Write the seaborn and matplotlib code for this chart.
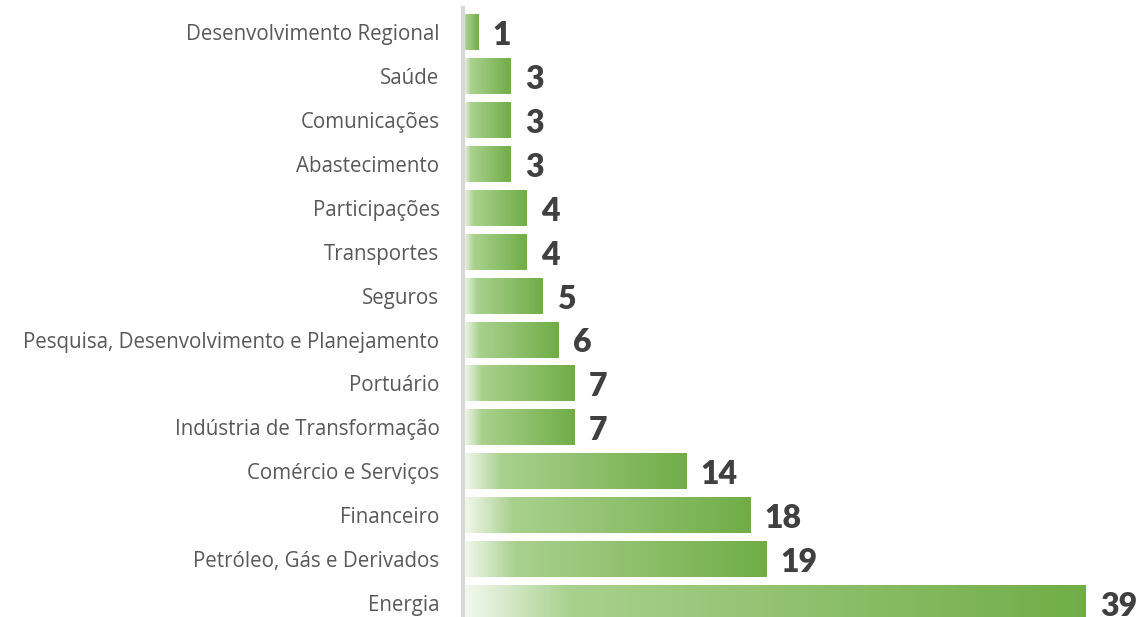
import numpy as np
import pandas as pd
import matplotlib
matplotlib.use("Agg")
import matplotlib.pyplot as plt
from matplotlib.colors import LinearSegmentedColormap
import seaborn as sns

# setores e quantidade
setores = ["Desenvolvimento Regional", "Saúde", "Comunicações", "Abastecimento",
           "Participações", "Transportes", "Seguros",
           "Pesquisa, Desenvolvimento e Planejamento", "Portuário",
           "Indústria de Transformação", "Comércio e Serviços", "Financeiro",
           "Petróleo, Gás e Derivados", "Energia"]
quantidade = [1, 3, 3, 3, 4, 4, 5, 6, 7, 7, 14, 18, 19, 39]

df = pd.DataFrame({"setor": setores, "qtd": quantidade})

sns.set_style("white")
plt.rcParams['font.family'] = ['Open Sans', 'DejaVu Sans']

fig = plt.figure(figsize=(11.41, 6.17), dpi=100)
ax = fig.add_axes([463 / 1141, 0, 1 - 463 / 1141, 1 - 8 / 617])

sns.barplot(data=df, x="qtd", y="setor", order=setores, orient="h",
            width=0.82, color="#70ad47", ax=ax)

# gradiente branco -> verde claro -> verde em cada barra
grad = LinearSegmentedColormap.from_list(
    "verde", [(0, "#f4f9f0"), (0.17, "#a9d18e"), (1, "#70ad47")])
g = np.linspace(0, 1, 256).reshape(1, -1)
for p in ax.patches:
    x0, y0 = p.get_x(), p.get_y()
    w, h = p.get_width(), p.get_height()
    im = ax.imshow(g, cmap=grad, aspect="auto", extent=[x0, x0 + w, y0 + h, y0],
                   interpolation="bilinear", zorder=2)
    im.set_clip_path(p)
    p.set_facecolor("none")
    p.set_edgecolor("none")

for i, v in enumerate(quantidade):
    ax.annotate(str(v), xy=(v, i), xytext=(10, -2.5), textcoords="offset points",
                ha="left", va="center", fontsize=23, fontweight="heavy",
                color="#404040", family=["Lato", "DejaVu Sans"])

ax.set_xlim(0, 42.45)
ax.set_ylim(13.32, -0.55)
ax.set_xlabel("")
ax.set_ylabel("")
ax.set_xticks([])
ax.tick_params(axis="y", length=0, pad=17, labelsize=14.8, labelcolor="#595959")
for s in ["top", "right", "bottom"]:
    ax.spines[s].set_visible(False)
ax.spines["left"].set_color("#d9d9d9")
ax.spines["left"].set_linewidth(3)

fig.savefig("out.png", dpi=100)
